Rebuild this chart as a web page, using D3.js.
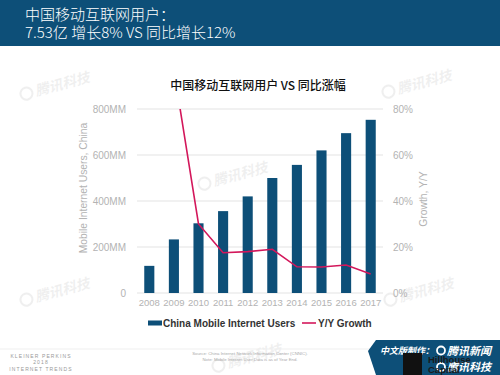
<!DOCTYPE html>
<html>
<head>
<meta charset="utf-8">
<script src="https://cdn.jsdelivr.net/npm/d3@7"></script>
<style>
  body { margin: 0; background: #fff; }
  svg { display: block; }
</style>
</head>
<body>
<div id="chart"></div>
<script>
// data
const years = ["2008", "2009", "2010", "2011", "2012", "2013", "2014", "2015", "2016", "2017"];
const users = [118, 233, 303, 356, 420, 500, 557, 620, 695, 753];   // MM
const growth = [null, 97, 30, 17.5, 18, 19, 11.4, 11.3, 12.2, 8.3]; // %
const leftTicks = [0, 200, 400, 600, 800];
const rightTicks = [0, 20, 40, 60, 80];

const W = 500, H = 375;
const plot = { left: 137, right: 383, top: 109, bottom: 293 };
const navy = "#0d4f78";
const red = "#d3175b";
const cjk = "'Noto Sans CJK SC', 'Noto Sans', sans-serif";
const sans = "'Liberation Sans', Arial, sans-serif";

const svg = d3.select("#chart").append("svg")
    .attr("width", W)
    .attr("height", H);

// header band
svg.append("rect")
    .attr("x", 0).attr("y", 0)
    .attr("width", W).attr("height", 46)
    .attr("fill", navy);
svg.append("text")
    .attr("x", 25).attr("y", 20)
    .attr("fill", "#fff")
    .style("font-family", cjk)
    .style("font-size", "15px")
    .style("font-weight", 300)
    .text("中国移动互联网用户：");
svg.append("text")
    .attr("x", 25).attr("y", 38)
    .attr("fill", "#fff")
    .style("font-family", cjk)
    .style("font-size", "15px")
    .style("font-weight", 300)
    .text("7.53亿 增长8% VS 同比增长12%");

// faint watermarks
const marks = [[22, 100], [200, 190], [384, 98], [22, 306], [386, 306], [214, 372]];
marks.forEach(function (m) {
    const g = svg.append("g")
        .attr("transform", "translate(" + m[0] + "," + m[1] + ") rotate(-15)")
        .attr("opacity", 0.06);
    g.append("circle").attr("cx", 6).attr("cy", -5).attr("r", 6)
        .attr("fill", "none").attr("stroke", "#000").attr("stroke-width", 2);
    g.append("text").attr("x", 15).attr("y", 0)
        .style("font-family", cjk).style("font-size", "14px")
        .style("font-weight", "bold").style("font-style", "italic")
        .text("腾讯科技");
});

// chart title
svg.append("text")
    .attr("x", 258).attr("y", 90)
    .attr("text-anchor", "middle")
    .attr("fill", "#111")
    .style("font-family", cjk)
    .style("font-size", "12px")
    .style("font-weight", 500)
    .text("中国移动互联网用户 VS 同比涨幅");

// scales
const x = d3.scaleBand()
    .domain(years)
    .range([plot.left, plot.right])
    .paddingInner(0.59)
    .paddingOuter(0.295);
const yL = d3.scaleLinear().domain([0, 800]).range([plot.bottom, plot.top]);
const yR = d3.scaleLinear().domain([0, 80]).range([plot.bottom, plot.top]);

// gridlines
svg.append("g")
    .selectAll("line")
    .data(leftTicks)
    .enter()
    .append("line")
    .attr("x1", plot.left).attr("x2", plot.right)
    .attr("y1", function (d) { return yL(d); })
    .attr("y2", function (d) { return yL(d); })
    .attr("stroke", "#e3e3e3")
    .attr("stroke-width", 1);

// left axis
const leftAxis = svg.append("g")
    .attr("transform", "translate(" + (plot.left - 8) + ",0)")
    .call(d3.axisLeft(yL).tickValues(leftTicks).tickSize(0)
        .tickFormat(function (d) { return d === 0 ? "0" : d + "MM"; }));
leftAxis.select(".domain").remove();
leftAxis.selectAll("text")
    .attr("fill", "#b3b3b3")
    .style("font-family", sans)
    .style("font-size", "10px");

// right axis
const rightAxis = svg.append("g")
    .attr("transform", "translate(" + (plot.right + 10) + ",0)")
    .call(d3.axisRight(yR).tickValues(rightTicks).tickSize(0)
        .tickFormat(function (d) { return d + "%"; }));
rightAxis.select(".domain").remove();
rightAxis.selectAll("text")
    .attr("fill", "#b3b3b3")
    .attr("x", 0)
    .style("font-family", sans)
    .style("font-size", "10px");

// bottom axis
const bottomAxis = svg.append("g")
    .attr("transform", "translate(0," + plot.bottom + ")")
    .call(d3.axisBottom(x).tickSize(0).tickPadding(6));
bottomAxis.select(".domain").remove();
bottomAxis.selectAll("text")
    .attr("fill", "#b3b3b3")
    .style("font-family", sans)
    .style("font-size", "9.5px");

// axis titles
svg.append("text")
    .attr("transform", "translate(87," + ((plot.top + plot.bottom) / 2 - 13) + ") rotate(-90)")
    .attr("text-anchor", "middle")
    .attr("fill", "#b3b3b3")
    .style("font-family", sans)
    .style("font-size", "10.3px")
    .text("Mobile Internet Users, China");
svg.append("text")
    .attr("transform", "translate(427,199) rotate(-90)")
    .attr("text-anchor", "middle")
    .attr("fill", "#b3b3b3")
    .style("font-family", sans)
    .style("font-size", "10.3px")
    .text("Growth, Y/Y");

// bars
svg.append("g")
    .selectAll("rect")
    .data(years)
    .enter()
    .append("rect")
    .attr("x", function (d) { return x(d); })
    .attr("y", function (d, i) { return yL(users[i]); })
    .attr("width", x.bandwidth())
    .attr("height", function (d, i) { return plot.bottom - yL(users[i]); })
    .attr("fill", navy);

// growth line, clipped to plot area
svg.append("clipPath")
    .attr("id", "plotclip")
    .append("rect")
    .attr("x", plot.left).attr("y", plot.top)
    .attr("width", plot.right - plot.left)
    .attr("height", plot.bottom - plot.top);

const line = d3.line()
    .defined(function (d) { return d.v !== null; })
    .x(function (d) { return x(d.year) + x.bandwidth() / 2; })
    .y(function (d) { return yR(d.v); });
svg.append("path")
    .datum(years.map(function (y, i) { return { year: y, v: growth[i] }; }))
    .attr("clip-path", "url(#plotclip)")
    .attr("d", line)
    .attr("fill", "none")
    .attr("stroke", red)
    .attr("stroke-width", 1.6);

// legend
const legend = svg.append("g").attr("transform", "translate(148,327)");
legend.append("rect")
    .attr("x", 0).attr("y", -6.5)
    .attr("width", 14).attr("height", 5)
    .attr("fill", navy);
legend.append("text")
    .attr("x", 15).attr("y", 0)
    .attr("fill", "#333")
    .style("font-family", sans)
    .style("font-size", "10px")
    .style("font-weight", "bold")
    .text("China Mobile Internet Users");
legend.append("line")
    .attr("x1", 154).attr("x2", 168)
    .attr("y1", -4).attr("y2", -4)
    .attr("stroke", red).attr("stroke-width", 1.6);
legend.append("text")
    .attr("x", 170).attr("y", 0)
    .attr("fill", "#333")
    .style("font-family", sans)
    .style("font-size", "10px")
    .style("font-weight", "bold")
    .text("Y/Y Growth");

// footer
svg.append("line")
    .attr("x1", 0).attr("x2", 370)
    .attr("y1", 349).attr("y2", 349)
    .attr("stroke", "#efefef");

const kp = ["KLEINER PERKINS", "2018", "INTERNET TRENDS"];
svg.append("g")
    .selectAll("text")
    .data(kp)
    .enter()
    .append("text")
    .attr("x", 41)
    .attr("y", function (d, i) { return 358 + i * 6.3; })
    .attr("text-anchor", "middle")
    .attr("fill", "#999")
    .style("font-family", sans)
    .style("font-size", "5px")
    .style("letter-spacing", "1.1px")
    .text(function (d) { return d; });

const src = ["Source: China Internet Network Information Center (CNNIC).",
    "Note: Mobile Internet User Data is as of Year End."];
svg.append("g")
    .selectAll("text")
    .data(src)
    .enter()
    .append("text")
    .attr("x", 250)
    .attr("y", function (d, i) { return 355 + i * 5.5; })
    .attr("text-anchor", "middle")
    .attr("fill", "#aaa")
    .style("font-family", sans)
    .style("font-size", "4.3px")
    .text(function (d) { return d; });

// producer badge bottom right
svg.append("path")
    .attr("d", "M368,351 L376,340 L500,340 L500,375 L376,375 Z")
    .attr("fill", navy);
svg.append("text")
    .attr("x", 380).attr("y", 354)
    .attr("fill", "#fff")
    .style("font-family", cjk)
    .style("font-size", "9px")
    .style("font-weight", "bold")
    .style("font-style", "italic")
    .text("中文版制作：");
svg.append("circle")
    .attr("cx", 441).attr("cy", 350.5).attr("r", 4)
    .attr("fill", "none").attr("stroke", "#fff").attr("stroke-width", 1.8);
svg.append("text")
    .attr("x", 447).attr("y", 355)
    .attr("fill", "#fff")
    .style("font-family", cjk)
    .style("font-size", "11px")
    .style("font-weight", "bold")
    .style("font-style", "italic")
    .text("腾讯新闻");
svg.append("rect")
    .attr("x", 403).attr("y", 353)
    .attr("width", 19).attr("height", 22)
    .attr("fill", "#111");
svg.append("circle")
    .attr("cx", 441).attr("cy", 367).attr("r", 4)
    .attr("fill", "none").attr("stroke", "#fff").attr("stroke-width", 1.8);
svg.append("text")
    .attr("x", 447).attr("y", 371)
    .attr("fill", "#fff")
    .style("font-family", cjk)
    .style("font-size", "11px")
    .style("font-weight", "bold")
    .style("font-style", "italic")
    .text("腾讯科技");
svg.append("text")
    .attr("x", 428).attr("y", 363)
    .attr("fill", "#1a1a1a")
    .style("font-family", sans)
    .style("font-size", "9.5px")
    .style("font-weight", "bold")
    .text("Hillhouse");
svg.append("text")
    .attr("x", 428).attr("y", 373)
    .attr("fill", "#1a1a1a")
    .style("font-family", sans)
    .style("font-size", "9.5px")
    .style("font-weight", "bold")
    .text("Capital");
</script>
</body>
</html>
